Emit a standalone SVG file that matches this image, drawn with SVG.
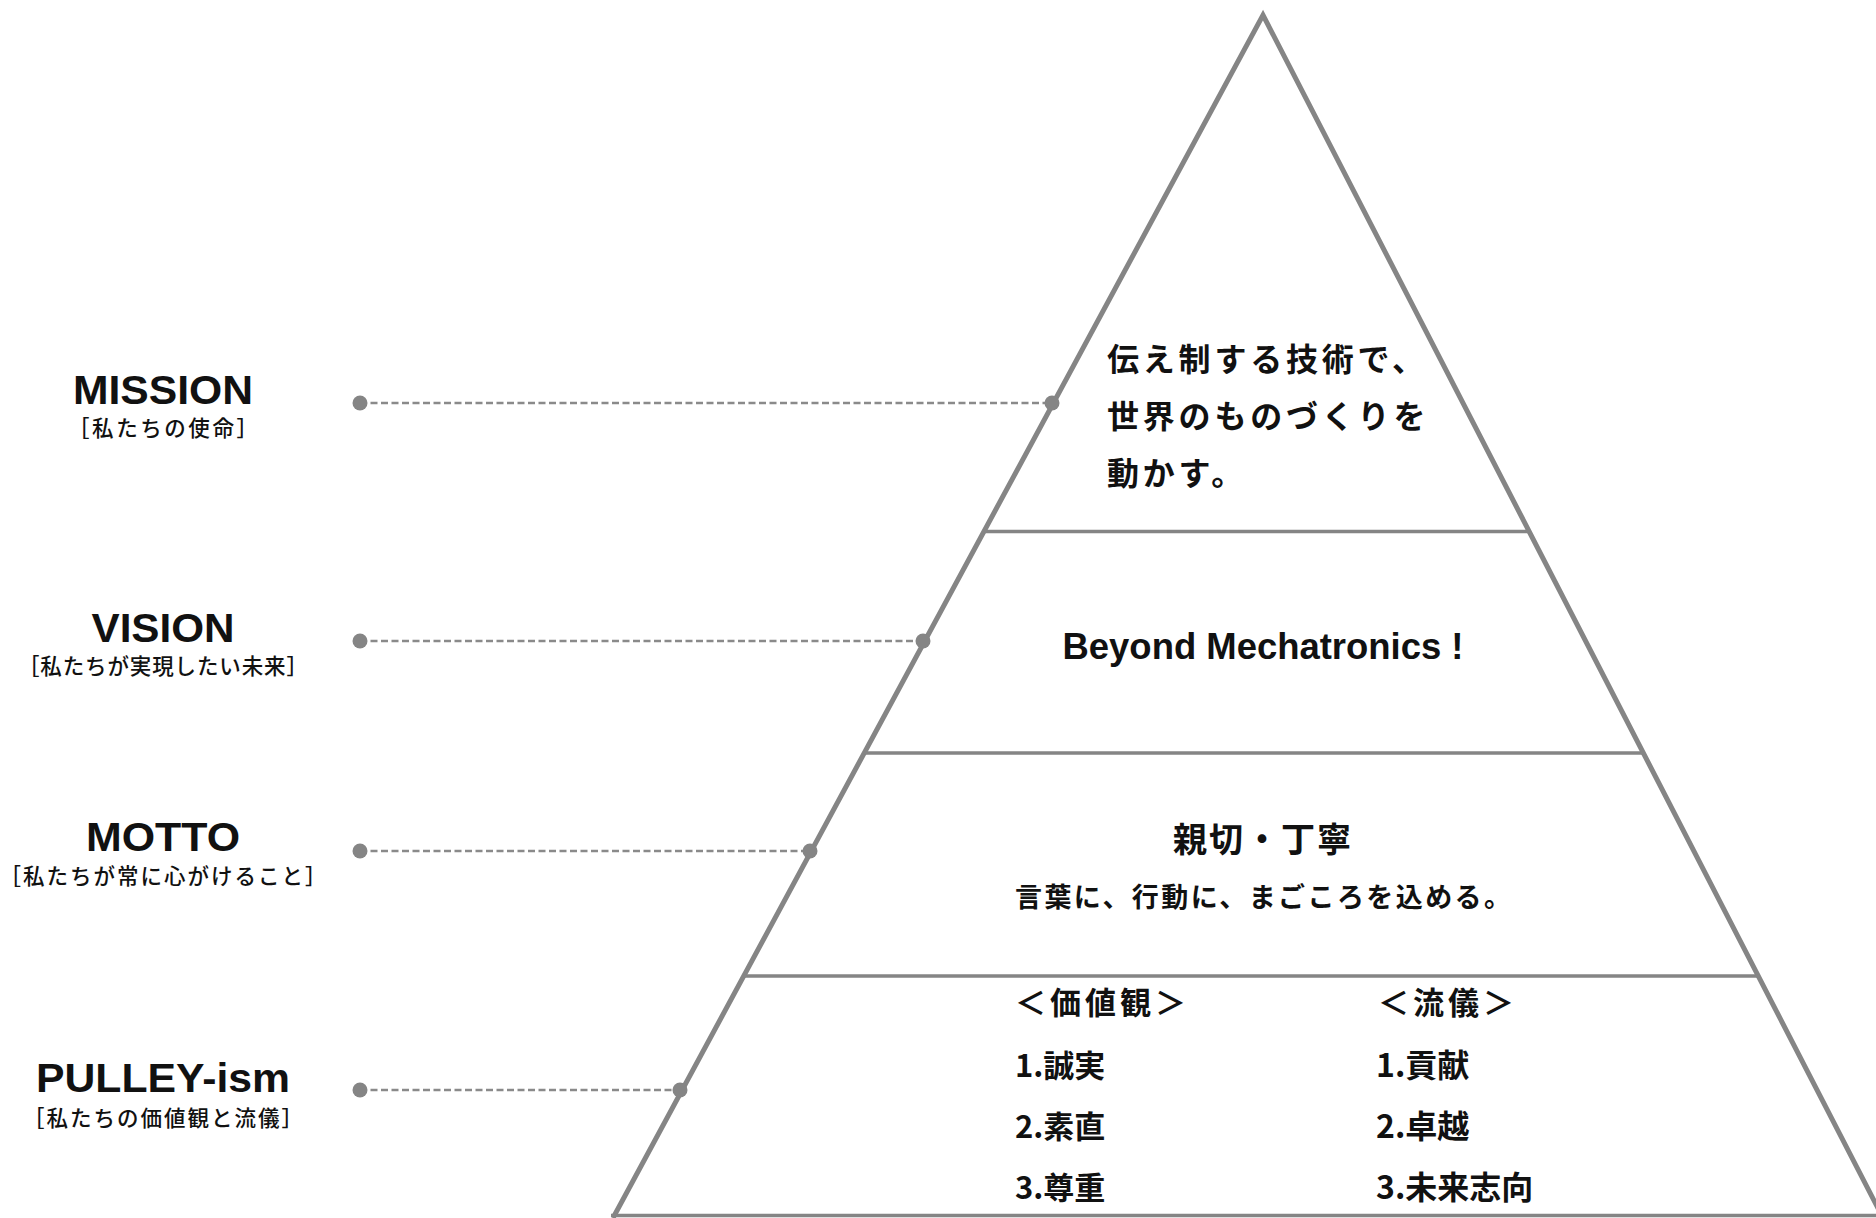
<svg xmlns="http://www.w3.org/2000/svg" width="1876" height="1218" viewBox="0 0 1876 1218">
<style>
.edge{fill:none;stroke:#858585;stroke-width:5;stroke-linejoin:miter}
.div{stroke:#858585;stroke-width:3.5}
.dash{stroke:#8a8a8a;stroke-width:2.5;stroke-dasharray:7 3.5}
.dot{fill:#858585}
.lbl{font-family:"Liberation Sans","Noto Sans CJK JP",sans-serif;font-weight:700;font-size:41px;fill:#111;text-anchor:middle}
.sub{font-family:"Noto Sans CJK JP",sans-serif;font-weight:500;font-size:21.5px;fill:#111;text-anchor:middle}
.jp{font-family:"Noto Sans CJK JP",sans-serif;font-weight:700;fill:#111}
.en{font-family:"Liberation Sans","Noto Sans CJK JP",sans-serif;font-weight:700;fill:#111}
</style>
<rect width="1876" height="1218" fill="#fff"/>
<g id="pyramid">
<polyline class="edge" points="613,1218 1263,15 1883,1218"/>
<line class="div" x1="611" y1="1215.5" x2="1880" y2="1215.5"/>
<line class="div" x1="983" y1="531.5" x2="1529" y2="531.5"/>
<line class="div" x1="863" y1="753" x2="1644" y2="753"/>
<line class="div" x1="743" y1="976" x2="1758" y2="976"/>
</g>
<g id="connectors">
<line class="dash" x1="360" y1="403" x2="1052" y2="403"/>
<circle class="dot" cx="360" cy="403" r="7.5"/>
<circle class="dot" cx="1052" cy="403" r="7.5"/>
<line class="dash" x1="360" y1="641" x2="923" y2="641"/>
<circle class="dot" cx="360" cy="641" r="7.5"/>
<circle class="dot" cx="923" cy="641" r="7.5"/>
<line class="dash" x1="360" y1="851" x2="810" y2="851"/>
<circle class="dot" cx="360" cy="851" r="7.5"/>
<circle class="dot" cx="810" cy="851" r="7.5"/>
<line class="dash" x1="360" y1="1090" x2="680" y2="1090"/>
<circle class="dot" cx="360" cy="1090" r="7.5"/>
<circle class="dot" cx="680" cy="1090" r="7.5"/>
</g>
<g id="mission-label">
<text class="lbl" x="163" y="404" textLength="180" lengthAdjust="spacingAndGlyphs">MISSION</text>
<text class="sub" x="163" y="436" textLength="190" lengthAdjust="spacing">［私たちの使命］</text>
</g>
<g id="vision-label">
<text class="lbl" x="163" y="642" textLength="143" lengthAdjust="spacingAndGlyphs">VISION</text>
<text class="sub" x="163" y="674" textLength="290" lengthAdjust="spacing">［私たちが実現したい未来］</text>
</g>
<g id="motto-label">
<text class="lbl" x="163" y="851" textLength="154" lengthAdjust="spacingAndGlyphs">MOTTO</text>
<text class="sub" x="163" y="884" textLength="327" lengthAdjust="spacing">［私たちが常に心がけること］</text>
</g>
<g id="pulley-label">
<text class="lbl" x="163" y="1092" textLength="254" lengthAdjust="spacingAndGlyphs">PULLEY-ism</text>
<text class="sub" x="163" y="1126" textLength="280" lengthAdjust="spacing">［私たちの価値観と流儀］</text>
</g>
<g id="mission">
<text class="jp" font-size="32" letter-spacing="3.8" x="1107" y="371">伝え制する技術で、</text>
<text class="jp" font-size="32" letter-spacing="3.8" x="1107" y="428">世界のものづくりを</text>
<text class="jp" font-size="32" letter-spacing="3.8" x="1107" y="485">動かす。</text>
</g>
<g id="vision">
<text class="en" font-size="36" x="1263" y="659" text-anchor="middle" textLength="401" lengthAdjust="spacingAndGlyphs">Beyond Mechatronics !</text>
</g>
<g id="motto">
<text class="jp" font-size="34" letter-spacing="2" x="1263" y="852" text-anchor="middle">親切・丁寧</text>
<text class="jp" font-size="27" font-weight="500" x="1015" y="907" textLength="496" lengthAdjust="spacing">言葉に、行動に、まごころを込める。</text>
</g>
<g id="pulley-ism">
<text class="jp" font-size="31" font-weight="500" letter-spacing="4" x="1015" y="1014">＜価値観＞</text>
<text class="jp" font-size="31" x="1015" y="1077">1.誠実</text>
<text class="jp" font-size="31" x="1015" y="1138">2.素直</text>
<text class="jp" font-size="31" x="1015" y="1199">3.尊重</text>
<text class="jp" font-size="31" font-weight="500" letter-spacing="4" x="1378" y="1014">＜流儀＞</text>
<text class="jp" font-size="32" x="1376" y="1077">1.貢献</text>
<text class="jp" font-size="32" x="1376" y="1138">2.卓越</text>
<text class="jp" font-size="32" x="1376" y="1199">3.未来志向</text>
</g>
</svg>
